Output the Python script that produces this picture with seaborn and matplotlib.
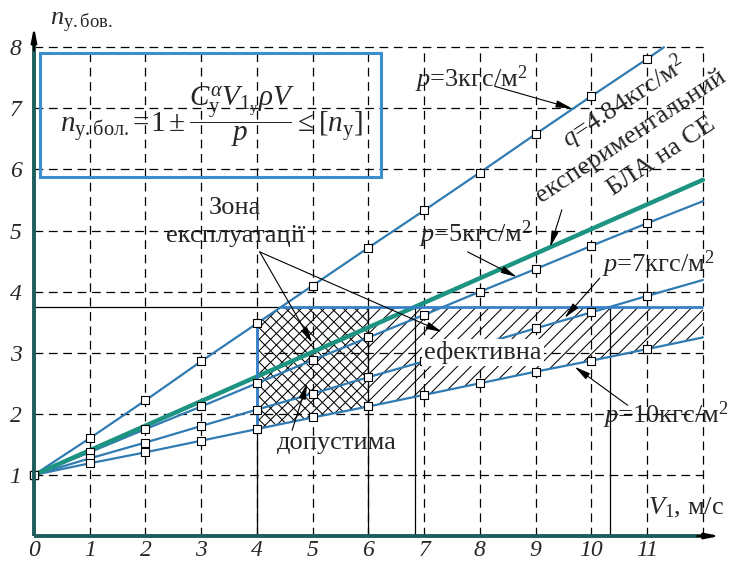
import numpy as np
import pandas as pd
import matplotlib
matplotlib.use("Agg")
import matplotlib.pyplot as plt
import seaborn as sns
from matplotlib.patches import Rectangle
from matplotlib.collections import LineCollection

# ---- data -------------------------------------------------------------
V = [0, 1, 2, 3, 4, 5, 6, 7, 8, 9, 10, 11]
n_p3 = [1.00, 1.60, 2.22, 2.86, 3.48, 4.10, 4.72, 5.33, 5.95, 6.58, 7.20, 7.81]
n_p5 = [1.00, 1.37, 1.75, 2.12, 2.50, 2.88, 3.25, 3.62, 4.00, 4.37, 4.75, 5.12]
n_p7 = [1.00, 1.27, 1.53, 1.80, 2.07, 2.33, 2.60, 2.86, 3.13, 3.40, 3.66, 3.93]
n_p10 = [1.00, 1.19, 1.37, 1.56, 1.75, 1.94, 2.12, 2.31, 2.50, 2.69, 2.87, 3.06]

# where each curve stops beyond its last marked point
end_V = {"p3": 11.3, "p5": 12.0, "p7": 12.0, "p10": 12.0}
end_n = {"p3": 8.00, "p5": 5.48, "p7": 4.19, "p10": 3.25}

# experimental UAV curve (q = 4.84 kgf/m^2)
V_exp = [0, 12]
n_exp = [1.00, 5.83]

n_limit = 3.75          # permissible overload [n_y]
zone_V = [4, 6, 12]     # borders of the operating zones

x_ticks = list(range(12))
y_ticks = list(range(1, 9))

# ---- styling ----------------------------------------------------------
sns.set_theme(style="white")
plt.rcParams["font.family"] = ["Liberation Serif", "DejaVu Serif"]
plt.rcParams["mathtext.fontset"] = "custom"
plt.rcParams["mathtext.rm"] = "Liberation Serif"
plt.rcParams["mathtext.it"] = "Liberation Serif:italic"
plt.rcParams["mathtext.bf"] = "Liberation Serif:bold"

LINE = "#2f7bb2"
GREEN = "#1d9482"
AXIS = "#1f5c5c"
BOX = "#3b8fcc"
ZONE = "#3580c8"
FS = 19

series = {"p3": n_p3, "p5": n_p5, "p7": n_p7, "p10": n_p10}

line_rows, pt_rows = [], []
for name, vals in series.items():
    for v, n in zip(V, vals):
        line_rows.append((name, v, n))
        pt_rows.append((name, v, n))
    line_rows.append((name, end_V[name], end_n[name]))
df_lines = pd.DataFrame(line_rows, columns=["series", "V", "n"])
df_pts = pd.DataFrame(pt_rows, columns=["series", "V", "n"])
df_exp = pd.DataFrame({"V": V_exp, "n": n_exp})

W, H = 733, 563
fig = plt.figure(figsize=(W / 100, H / 100), dpi=100)
ax = fig.add_axes([34 / W, 27 / H, 699 / W, 526 / H])
XMAX, YMAX = 12.54, 8.61
ax.set_xlim(0, XMAX)
ax.set_ylim(0, YMAX)
for s in ax.spines.values():
    s.set_visible(False)
px_x = 699 / XMAX      # pixels per unit of V
px_y = 526 / YMAX      # pixels per unit of n

# dashed grid
dash = (0, (7, 4.5))
ax.vlines(range(1, 13), 0, 8, colors="black", linestyles=[dash], lw=0.9, zorder=0.5)
ax.hlines(range(1, 9), 0, 12, colors="black", linestyles=[dash], lw=0.9, zorder=0.5)


def hatch_region(xs, lo, hi, spacing_px, directions):
    """Shade the band between lo and hi with thin 45-degree lines."""
    poly = ax.fill_between(xs, lo, hi, facecolor="none", edgecolor="none", lw=0, zorder=1)
    path = poly.get_paths()[0]
    k = px_x / px_y                     # 45 degrees on screen
    step = spacing_px / px_x
    segs = []
    x0, x1 = xs.min(), xs.max()
    y0, y1 = min(lo.min(), np.min(hi)), max(lo.max(), np.max(hi))
    span = (y1 - y0) / k
    for sgn in directions:
        for c in np.arange(x0 - span - step, x1 + span + step, step):
            segs.append([(c, y0 if sgn > 0 else y1),
                         (c + span, y1 if sgn > 0 else y0)])
    lc = LineCollection(segs, colors="black", linewidths=0.75, zorder=1.2)
    ax.add_collection(lc)
    lc.set_clip_path(path, ax.transData)


# operating zones
Vf = V + [end_V["p10"]]
nf10 = n_p10 + [end_n["p10"]]
xs1 = np.linspace(zone_V[0], zone_V[1], 200)
lo1 = np.interp(xs1, Vf, nf10)
hi1 = np.minimum(np.interp(xs1, V, n_p3), n_limit)
hatch_region(xs1, lo1, hi1, 11.5, (1, -1))
xs2 = np.linspace(zone_V[1], zone_V[2], 200)
lo2 = np.interp(xs2, Vf, nf10)
hi2 = np.full_like(xs2, n_limit)
hatch_region(xs2, lo2, hi2, 13.5, (1,))

# limit line and vertical guides
V_p3_lim = float(np.interp(n_limit, n_p3, V))
V_exp_lim = float(np.interp(n_limit, n_exp, V_exp))
V_p7_lim = float(np.interp(n_limit, n_p7 + [end_n["p7"]], V + [end_V["p7"]]))
ax.hlines(n_limit, 0, V_p3_lim, colors="black", lw=0.9, zorder=2)
ax.vlines([zone_V[0]], 0, np.interp(zone_V[0], V, n_p3), colors="black", lw=0.9, zorder=2)
ax.vlines([zone_V[1], V_exp_lim, V_p7_lim], 0, n_limit, colors="black", lw=0.9, zorder=2)
ax.hlines(n_limit, V_p3_lim, zone_V[2], colors=ZONE, lw=2.0, zorder=3.5)
ax.vlines(zone_V[0], np.interp(zone_V[0], V, n_p10), np.interp(zone_V[0], V, n_p3),
          colors=ZONE, lw=2.0, zorder=3.5)

# curves
sns.lineplot(data=df_lines, x="V", y="n", units="series", estimator=None, sort=True,
             color=LINE, lw=1.6, ax=ax, zorder=3)
sns.lineplot(data=df_exp, x="V", y="n", color=GREEN, lw=3.2, ax=ax, zorder=3.2)
sns.scatterplot(data=df_pts, x="V", y="n", marker="s", s=26, color="white",
                edgecolor="black", linewidth=0.8, ax=ax, zorder=5, clip_on=False)

# axes with arrows
ax.plot([0, 0], [0, 8.08], color=AXIS, lw=2.8, solid_capstyle="butt", clip_on=False, zorder=6)
ax.plot([0, 12.0], [0, 0], color=AXIS, lw=2.8, solid_capstyle="butt", clip_on=False, zorder=6)
head = "-|>,head_length=0.7,head_width=0.14"
ax.annotate("", xy=(0, 8.33), xytext=(0, 7.95),
            arrowprops=dict(arrowstyle=head, color="black", lw=1.6, shrinkA=0, shrinkB=0), zorder=7)
ax.annotate("", xy=(12.3, 0), xytext=(11.9, 0),
            arrowprops=dict(arrowstyle=head, color="black", lw=1.6, shrinkA=0, shrinkB=0), zorder=7)

ax.set_xticks(x_ticks)
ax.set_xticklabels([str(t) for t in x_ticks], fontsize=17, fontstyle="italic",
                   family="Liberation Serif")
ax.set_yticks(y_ticks)
ax.set_yticklabels([str(t) for t in y_ticks], fontsize=17, fontstyle="italic",
                   family="Liberation Serif")
ax.tick_params(axis="x", length=0, pad=3)
ax.tick_params(axis="y", length=0, pad=9)
ax.set_xlabel("")
ax.set_ylabel("")

ax.text(0.29, 8.36, r"$n_{\mathrm{у.бов.}}$", fontsize=19, ha="left", va="baseline")
ax.text(11.01, 0.36, r"$V_1$, м/с", fontsize=19, ha="left", va="baseline")

# formula box
ax.add_patch(Rectangle((0.11, 5.88), 6.12, 2.02, fill=False, edgecolor=BOX, lw=2.2, zorder=4))
ax.text(3.18, 6.86,
        r"$n_{\mathrm{у.бол.}}\!=\!1\pm\dfrac{C_{\mathrm{у}}^{\alpha}V_{1_{\mathrm{у}}}\rho V}{p}\leq[n_{\mathrm{у}}]$",
        fontsize=21, ha="center", va="center", zorder=4)

arrow = dict(arrowstyle="-|>,head_length=0.8,head_width=0.18", color="black", lw=0.8,
             shrinkA=0, shrinkB=0)

# curve labels
ax.text(6.83, 7.35, r"$p$=3кгс/м$^2$", fontsize=FS, ha="left", va="baseline", zorder=8)
ax.annotate("", xy=(9.65, 7.0), xytext=(8.27, 7.36), arrowprops=arrow, zorder=8)

ax.text(6.91, 4.81, r"$p$=5кгс/м$^2$", fontsize=FS, ha="left", va="baseline", zorder=8)
ax.annotate("", xy=(8.66, 4.24), xytext=(7.78, 4.65), arrowprops=arrow, zorder=8)

ax.text(10.19, 4.32, r"$p$=7кгс/м$^2$", fontsize=FS, ha="left", va="baseline", zorder=8)
ax.annotate("", xy=(9.52, 3.57), xytext=(10.15, 4.22), arrowprops=arrow, zorder=8)

ax.text(10.21, 1.85, r"$p$=10кгс/м$^2$", fontsize=FS, ha="left", va="baseline", zorder=8)
ax.annotate("", xy=(9.70, 2.77), xytext=(10.65, 2.14), arrowprops=arrow, zorder=8)

rot = 33.5
ax.text(10.67, 7.00, r"$q$=4.84кгс/м$^2$", fontsize=FS, rotation=rot, rotation_mode="anchor",
        ha="center", va="baseline", zorder=8)
ax.text(10.76, 6.46, "експериментальний", fontsize=FS, rotation=rot, rotation_mode="anchor",
        ha="center", va="baseline", zorder=8)
ax.text(11.32, 6.12, "БЛА на СЕ", fontsize=FS, rotation=rot, rotation_mode="anchor",
        ha="center", va="baseline", zorder=8)
ax.annotate("", xy=(9.26, 4.73), xytext=(9.47, 5.34), arrowprops=arrow, zorder=8)

# zone labels
ax.text(3.61, 5.14, "Зона\nексплуатації", fontsize=FS, ha="center", va="center",
        linespacing=1.3, zorder=8)
ax.annotate("", xy=(4.99, 3.16), xytext=(4.05, 4.65), arrowprops=arrow, zorder=8)
ax.annotate("", xy=(7.32, 3.34), xytext=(4.05, 4.65), arrowprops=arrow, zorder=8)

ax.text(8.05, 3.0, "ефективна", fontsize=FS, ha="center", va="center", zorder=8,
        bbox=dict(facecolor="white", edgecolor="none", pad=1.5))
ax.text(5.43, 1.52, "допустима", fontsize=FS, ha="center", va="center", zorder=8)
ax.annotate("", xy=(4.9, 2.5), xytext=(4.63, 1.73), arrowprops=arrow, zorder=8)

fig.savefig("out.png", dpi=100)
